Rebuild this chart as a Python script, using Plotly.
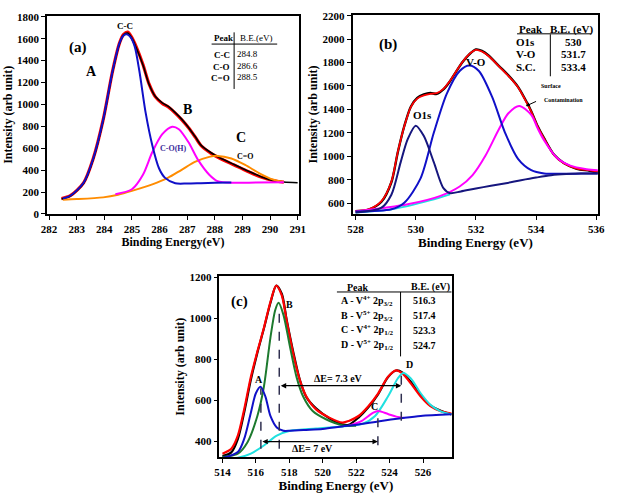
import plotly.graph_objects as go

W, H = 620, 501
FONT = "Liberation Serif"

# ---------------- Panel (a) : C1s ----------------
a_x_fit = [282.45, 282.77, 283.25, 283.6, 283.96, 284.3, 284.55, 284.7, 284.85, 285.0, 285.15, 285.4, 285.62,
           285.85, 286.1, 286.33, 286.57, 286.8, 287.05, 287.3, 287.5, 287.88, 288.2, 288.7, 289.2, 289.7,
           290.1, 290.5]
a_fit = [140, 166, 284, 506, 861, 1305, 1560, 1640, 1660, 1610, 1530, 1365, 1187, 1069, 1009, 974, 921, 861,
         787, 699, 625, 551, 506, 447, 388, 334, 305, 290]
a_x_data = a_x_fit + [291.0]
a_data = [136, 163, 280, 500, 855, 1300, 1555, 1635, 1652, 1605, 1522, 1360, 1185, 1072, 1015, 980, 925, 866,
          790, 702, 628, 556, 510, 452, 392, 338, 306, 291, 284]
a_x_A = [282.5, 282.77, 283.25, 283.6, 283.96, 284.3, 284.55, 284.7, 284.82, 284.95, 285.1, 285.27, 285.5,
         285.74, 285.98, 286.2, 286.57, 287.0, 287.5, 288.0, 288.6]
a_A = [140, 166, 284, 506, 861, 1305, 1560, 1630, 1640, 1615, 1530, 1305, 920, 625, 417, 329, 280, 278, 281,
       284, 286]
a_x_B = [284.4, 285.0, 285.4, 285.74, 286.1, 286.46, 286.7, 287.05, 287.4, 287.8, 288.1, 288.7, 289.5, 290.5]
a_B = [180, 225, 358, 565, 728, 796, 773, 654, 491, 358, 299, 284, 287, 290]
a_x_C = [282.5, 283.0, 283.96, 284.5, 285.0, 285.74, 286.3, 286.8, 287.3, 287.8, 288.1, 288.6, 289.1, 289.6,
         290.1, 290.5]
a_C = [130, 135, 151, 175, 210, 270, 329, 403, 477, 521, 530, 506, 447, 373, 314, 290]
a_table_peak = ["C-C", "C-O", "C=O"]
a_table_be = ["284.8", "286.6", "288.5"]

# ---------------- Panel (b) : O1s ----------------
b_x_fit = [528.0, 528.43, 528.86, 529.19, 529.4, 529.62, 529.84, 530.05, 530.27, 530.49, 530.7, 530.92, 531.14,
           531.35, 531.57, 531.78, 532.0, 532.2, 532.43, 532.76, 533.08, 533.4, 533.62, 533.84, 534.05, 534.27,
           534.6, 534.92, 535.35, 535.78, 536.05]
b_fit = [533, 547, 617, 783, 1033, 1256, 1422, 1492, 1519, 1533, 1539, 1575, 1644, 1728, 1811, 1872, 1908,
         1894, 1853, 1769, 1686, 1589, 1490, 1380, 1255, 1150, 1010, 940, 895, 880, 870]
b_data = [530, 545, 612, 778, 1030, 1258, 1425, 1498, 1528, 1540, 1532, 1570, 1640, 1725, 1808, 1870, 1912,
          1900, 1858, 1772, 1690, 1592, 1495, 1385, 1258, 1152, 1012, 942, 893, 876, 860]
b_x_O1s = [528.0, 528.86, 529.19, 529.5, 529.73, 530.0, 530.27, 530.6, 530.92, 531.14, 531.5, 532.0, 532.5,
           533.0, 533.5, 534.0, 534.5, 535.0, 535.5, 536.05]
b_O1s = [519, 561, 672, 950, 1144, 1261, 1172, 950, 728, 685, 700, 725, 748, 770, 795, 818, 838, 848, 852, 853]
b_x_VO = [528.0, 529.19, 529.62, 530.16, 530.6, 531.03, 531.46, 531.78, 532.1, 532.54, 532.97, 533.4, 533.84,
          534.27, 534.92, 535.5, 536.05]
b_VO = [528, 547, 603, 811, 1200, 1533, 1728, 1775, 1728, 1506, 1200, 978, 881, 853, 850, 852, 853]
b_x_SC = [528.0, 529.73, 530.8, 531.46, 531.89, 532.32, 532.76, 533.08, 533.44, 533.84, 534.05, 534.27, 534.7,
          535.14, 535.68, 536.05]
b_SC = [528, 590, 660, 742, 839, 1006, 1228, 1367, 1430, 1353, 1240, 1135, 985, 920, 890, 880]
b_x_bg = [528.0, 529.0, 529.73, 530.5, 531.14]
b_bg = [519, 540, 575, 625, 675]
b_table_peak = ["O1s", "V-O", "S.C."]
b_table_be = ["530", "531.7", "533.4"]

# ---------------- Panel (c) : V2p ----------------
c_x_fit = [514.0, 514.53, 514.92, 515.3, 515.7, 516.1, 516.48, 516.87, 517.22, 517.55, 517.85, 518.24, 518.63,
           519.02, 519.6, 520.39, 521.17, 521.56, 522.14, 522.73, 523.32, 523.9, 524.39, 524.78, 525.27, 525.86,
           526.44, 527.03, 527.7]
c_fit = [339, 363, 427, 555, 714, 841, 953, 1080, 1160, 1112, 985, 825, 698, 618, 555, 515, 491, 499, 523, 571,
         634, 714, 746, 730, 682, 618, 571, 547, 535]
c_data = [327, 345, 410, 540, 700, 835, 950, 1075, 1160, 1120, 990, 835, 700, 615, 560, 512, 482, 480, 515, 565,
          630, 712, 745, 735, 690, 625, 575, 550, 530]
c_x_A = [514.0, 514.92, 515.3, 515.7, 516.0, 516.28, 516.57, 516.87, 517.25, 517.65, 518.05, 519.0, 520.0,
         521.17, 522.0, 523.5, 524.7, 525.86, 527.7]
c_A = [318, 347, 411, 539, 634, 666, 618, 523, 467, 451, 451, 455, 460, 472, 480, 499, 512, 523, 531]
c_x_B = [514.0, 514.92, 515.5, 516.09, 516.48, 516.87, 517.16, 517.36, 517.65, 518.05, 518.43, 518.83, 519.4,
         520.19, 521.17, 522.0]
c_B = [323, 339, 395, 523, 666, 905, 1041, 1076, 1017, 857, 714, 618, 547, 507, 478, 475]
c_x_C = [521.56, 522.34, 523.0, 523.32, 523.9, 524.4, 524.9]
c_C = [475, 499, 538, 547, 533, 520, 513]
c_x_D = [514.0, 514.92, 515.7, 516.48, 517.25, 518.05, 519.6, 521.17, 522.34, 523.13, 523.9, 524.49, 524.82,
         525.27, 525.86, 526.44, 527.03, 527.7]
c_D = [311, 319, 339, 379, 427, 451, 462, 472, 483, 523, 618, 706, 733, 706, 634, 578, 547, 531]
c_table_peak = ["A - V<sup>4+</sup> 2p<sub>3/2</sub>", "B - V<sup>5+</sup> 2p<sub>3/2</sub>",
                "C - V<sup>4+</sup> 2p<sub>1/2</sub>", "D - V<sup>5+</sup> 2p<sub>1/2</sub>"]
c_table_be = ["516.3", "517.4", "523.3", "524.7"]
c_peak_pos = [516.3, 517.4, 523.3, 524.7]
c_peak_top = [658, 1064, 547, 738]
c_peak_bot = [363, 363, 380, 500]


def px(x):
    return x / W


def py(y):
    return 1 - y / H


fig = go.Figure()


def line(xs, ys, color, width, ax, name, dash=None):
    fig.add_trace(go.Scatter(x=xs, y=ys, mode="lines", name=name, xaxis=ax[0], yaxis=ax[1],
                             line=dict(color=color, width=width, shape="spline", smoothing=0.8, dash=dash),
                             showlegend=False, hoverinfo="skip"))


BLUE = "#1010c8"
RED = "#ff0000"
MAG = "#ff00ff"
ORG = "#ff8c00"
NAVY = "#16167e"
GREEN = "#1d7a2e"
CYAN = "#20e0e0"

# Panel a
A = ("x", "y")
line(a_x_fit, a_fit, RED, 3.2, A, "fit")
line(a_x_data, a_data, "black", 1.6, A, "data")
line(a_x_C, a_C, ORG, 2, A, "C")
line(a_x_B, a_B, MAG, 2, A, "B")
line(a_x_A, a_A, BLUE, 2, A, "A")

# Panel b
B = ("x2", "y2")
line(b_x_fit, b_data, "black", 2.4, B, "data")
line(b_x_fit, b_fit, RED, 1.8, B, "fit")
line(b_x_bg, b_bg, CYAN, 1.8, B, "bg")
line(b_x_SC, b_SC, MAG, 2, B, "SC")
line(b_x_VO, b_VO, BLUE, 2, B, "VO")
line(b_x_O1s, b_O1s, NAVY, 2, B, "O1s")

# Panel c
C = ("x3", "y3")
line(c_x_fit, c_data, "black", 2.2, C, "data")
line(c_x_fit, c_fit, RED, 2.2, C, "fit")
line(c_x_D, c_D, CYAN, 2, C, "D")
line(c_x_C, c_C, MAG, 2, C, "C")
line(c_x_B, c_B, GREEN, 2, C, "B")
line(c_x_A, c_A, BLUE, 2, C, "A")

for xp, yt, yb in zip(c_peak_pos, c_peak_top, c_peak_bot):
    fig.add_shape(type="line", xref="x3", yref="y3", x0=xp, x1=xp, y0=yb, y1=yt,
                  line=dict(color="#303050", width=1.5, dash="dash"))


def axis_common(rng, dtick, title, tsize, tfont=11):
    return dict(range=rng, dtick=dtick, showline=True, mirror=True, linecolor="black", linewidth=1.6,
                ticks="outside", ticklen=4, tickwidth=1.3, tickcolor="black", showgrid=False, zeroline=False,
                tickfont=dict(family=FONT, size=tfont, color="black", weight="bold"),
                title=dict(text=title, font=dict(family=FONT, size=tsize, color="black", weight="bold"),
                           standoff=2))


fig.update_layout(
    width=W, height=H, margin=dict(l=0, r=0, t=0, b=0),
    paper_bgcolor="white", plot_bgcolor="white",
    xaxis=dict(domain=[px(42), px(299)], anchor="y", tick0=282,
               **axis_common([281.93, 291.04], 1, "Binding Energy(eV)", 12)),
    yaxis=dict(domain=[py(213), py(10)], anchor="x", tick0=0,
               **axis_common([0, 1810], 200, "Intensity (arb unit)", 12)),
    xaxis2=dict(domain=[px(354), px(605)], anchor="y2", tick0=528,
                **axis_common([527.9, 536.07], 2, "Binding Energy (eV)", 13)),
    yaxis2=dict(domain=[py(213), py(9.3)], anchor="x2", tick0=600,
                **axis_common([508, 2205], 200, "Intensity (arb unit)", 12)),
    xaxis3=dict(domain=[px(218), px(456)], anchor="y3", tick0=514,
                **axis_common([513.82, 527.76], 2, "Binding Energy (eV)", 13)),
    yaxis3=dict(domain=[py(462), py(277)], anchor="x3", tick0=400,
                **axis_common([323, 1205], 200, "Intensity (arb unit)", 12)),
)

ann = []


def txt(x, y, s, size, xref, yref, color="black", bold=True, xanchor="center"):
    ann.append(dict(x=x, y=y, xref=xref, yref=yref, text=s, showarrow=False, xanchor=xanchor, yanchor="middle",
                    font=dict(family=FONT, size=size, color=color, weight="bold" if bold else "normal")))


# panel a labels
txt(284.75, 1720, "C-C", 9, "x", "y")
txt(283.05, 1520, "(a)", 15, "x", "y")
txt(283.55, 1300, "A", 14, "x", "y")
txt(287.0, 955, "B", 14, "x", "y")
txt(288.95, 700, "C", 14, "x", "y")
txt(286.5, 595, "C-O(H)", 8, "x", "y", color="#3a2a9a")
txt(289.1, 520, "C=O", 8, "x", "y")
# table a
txt(px(222), py(33), "Peak", 9, "paper", "paper")
txt(px(256), py(33), "B.E.(eV)", 9, "paper", "paper", bold=False)
for i, (p, v) in enumerate(zip(a_table_peak, a_table_be)):
    txt(px(231), py(50 + 12 * i), p, 9, "paper", "paper", xanchor="right")
    txt(px(247), py(49 + 12 * i), v, 9, "paper", "paper", bold=False)
fig.add_shape(type="line", xref="paper", yref="paper", x0=px(210), x1=px(277), y0=py(39), y1=py(39),
              line=dict(color="black", width=1))
fig.add_shape(type="line", xref="paper", yref="paper", x0=px(233), x1=px(233), y0=py(27), y1=py(85),
              line=dict(color="black", width=1))

# panel b labels
txt(529.08, 1950, "(b)", 15, "x2", "y2")
txt(530.24, 1353, "O1s", 11, "x2", "y2")
txt(532.0, 1803, "V-O", 11, "x2", "y2")
txt(534.49, 1603, "Surface", 6, "x2", "y2")
txt(534.92, 1483, "Contamination", 6, "x2", "y2")
ann.append(dict(x=533.66, y=1428, xref="x2", yref="y2", ax=534.05, ay=1474, axref="x2", ayref="y2", text="",
                showarrow=True, arrowhead=2, arrowsize=0.8, arrowwidth=1, arrowcolor="black"))
# table b
txt(px(536), py(24), "Peak", 11, "paper", "paper")
txt(px(578), py(24), "B.E. (eV)", 11, "paper", "paper")
for i, (p, v) in enumerate(zip(b_table_peak, b_table_be)):
    txt(px(531), py(37 + 12.5 * i), p, 11, "paper", "paper")
    txt(px(580), py(37 + 12.5 * i), v, 11, "paper", "paper")
fig.add_shape(type="line", xref="paper", yref="paper", x0=px(522), x1=px(598), y0=py(28.5), y1=py(28.5),
              line=dict(color="black", width=1))
fig.add_shape(type="line", xref="paper", yref="paper", x0=px(556), x1=px(556), y0=py(29), y1=py(72),
              line=dict(color="black", width=1))

# panel c labels
txt(515.0, 1080, "(c)", 15, "x3", "y3")
txt(516.19, 703, "A", 10, "x3", "y3")
txt(518.04, 1069, "B", 10, "x3", "y3")
txt(523.08, 570, "C", 10, "x3", "y3")
txt(525.17, 773, "D", 10, "x3", "y3")
txt(520.97, 706, "\u0394E= 7.3 eV", 10, "x3", "y3")
txt(519.4, 363, "\u0394E= 7 eV", 10, "x3", "y3")
ann.append(dict(x=c_peak_pos[3], y=671, ax=c_peak_pos[1], ay=671, xref="x3", yref="y3", axref="x3", ayref="y3",
                text="", showarrow=True, arrowhead=2, startarrowhead=2, arrowside="end+start", arrowsize=0.9,
                arrowwidth=1.2, arrowcolor="black"))
ann.append(dict(x=c_peak_pos[2], y=398, ax=c_peak_pos[0], ay=398, xref="x3", yref="y3", axref="x3", ayref="y3",
                text="", showarrow=True, arrowhead=2, startarrowhead=2, arrowside="end+start", arrowsize=0.9,
                arrowwidth=1.2, arrowcolor="black"))
# table c
txt(px(360), py(288), "Peak", 10, "paper", "paper")
txt(px(434), py(288), "B.E. (eV)", 10, "paper", "paper")
for i, (p, v) in enumerate(zip(c_table_peak, c_table_be)):
    txt(px(369), py(302 + 15.2 * i), p, 10, "paper", "paper")
    txt(px(427), py(302 + 15.2 * i), v, 10, "paper", "paper")
fig.add_shape(type="line", xref="paper", yref="paper", x0=px(338), x1=px(455), y0=py(293), y1=py(293),
              line=dict(color="black", width=1))
fig.add_shape(type="line", xref="paper", yref="paper", x0=px(403), x1=px(403), y0=py(293), y1=py(359),
              line=dict(color="black", width=1))

fig.update_layout(annotations=ann)
fig.write_html("out.html")
